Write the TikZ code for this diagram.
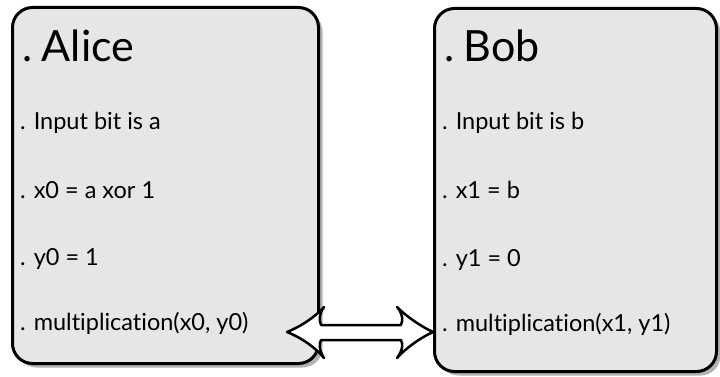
\documentclass[tikz,border=0pt]{standalone}
\usepackage{fontspec}
\setmainfont{Lato}[Ligatures={NoCommon,NoRare}]
\usetikzlibrary{shadows}
\definecolor{boxfill}{HTML}{E7E5E7}
\tikzset{
  card/.style={draw=black, line width=3pt, rounded corners=20pt, fill=boxfill, anchor=north west, inner sep=0pt,
    drop shadow={shadow xshift=4pt, shadow yshift=-4pt, fill=black, opacity=0.3}},
  title/.style={anchor=base west, inner sep=0pt, font=\fontsize{43}{43}\selectfont},
  item/.style={anchor=base west, inner sep=0pt, font=\fontsize{23.5}{23.5}\selectfont},
  bigarrow/.style={draw=black, line width=2.5pt, fill=white, line join=round}
}
\begin{document}
\begin{tikzpicture}[x=1pt,y=-1pt]
\useasboundingbox (0,0) rectangle (720,377);
\node[card, minimum width=306pt, minimum height=356pt] (alice) at (11,6) {};
\node[card, minimum width=282pt, minimum height=363pt] (bob) at (433,7) {};
% Alice texts
\node[title] (at) at (22,62) {.\hspace{0.22em}Alice};
\node[item] (a1) at (20,130) {. Input bit is a};
\node[item] (a2) at (20,198) {. x0 = a xor 1};
\node[item] (a3) at (20,265) {. y0 = 1};
\node[item] (a4) at (20,330) {. multiplication(x0, y0)};
% Bob texts
\node[title] (bt) at (444,62) {.\hspace{0.22em}Bob};
\node[item] (b1) at (442,130) {. Input bit is b};
\node[item] (b2) at (442,198) {. x1 = b};
\node[item] (b3) at (442,266) {. y1 = 0};
\node[item] (b4) at (442,331) {. multiplication(x1, y1)};
% double block arrow
\coordinate (ltip) at (287,332);
\coordinate (rtip) at (433,332);
\draw[bigarrow] (ltip)
  .. controls (302,326) and (316,316) .. (324,307)
  .. controls (319,314) and (319,320) .. (321,325)
  -- (401,325)
  .. controls (403,320) and (403,314) .. (397,307)
  .. controls (406,316) and (420,326) .. (rtip)
  .. controls (420,338) and (406,348) .. (397,358)
  .. controls (403,350) and (403,344) .. (401,340)
  -- (321,340)
  .. controls (319,344) and (319,350) .. (324,358)
  .. controls (316,348) and (302,338) .. (ltip) -- cycle;
\end{tikzpicture}
\end{document}
